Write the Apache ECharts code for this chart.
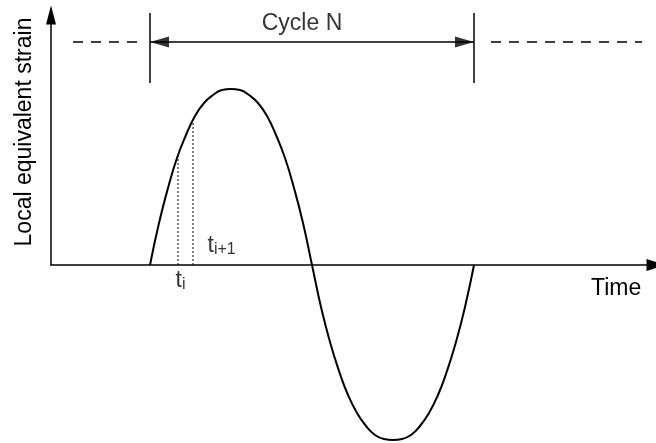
<!DOCTYPE html>
<html>
<head>
<meta charset="utf-8">
<script src="https://cdn.jsdelivr.net/npm/echarts@6/dist/echarts.min.js"></script>
<style>html,body{margin:0;padding:0;background:#fff;}#c{width:656px;height:443px;}</style>
</head>
<body>
<div id="c"></div>
<script>
// ---- data (time and strain in chart units) ----
const curveTime = [99,108,117,126,135,144,153,162,171,180,189,198,207,216,225,234,243,252,261,270,279,288,297,306,315,324,333,342,351,360,369,378,387,396,405,414,423];
const curveStrain = [0,42,77,107,130,149,162,170,175,176,175,170,162,149,130,107,77,42,0,-42,-77,-106,-130,-148,-161,-170,-174,-175,-174,-170,-161,-148,-130,-106,-77,-42,0];
const cycleBounds = [99, 423];          // start / end of cycle N
const cycleTickSpan = [182, 252];       // vertical extent of the cycle markers
const cycleArrowLevel = 223;
const dashLeft = [22, 87];
const dashRight = [440, 591];
const stepTimes = [127, 142];           // t_i, t_i+1
const stepStrains = [109, 144];
const stepLabels = ['i', 'i+1'];
const cycleLabel = 'Cycle N';
const xName = 'Time';
const yName = 'Local equivalent strain';

const FONT = '"Liberation Sans", Arial, Helvetica, sans-serif';
const BLACK = '#000';

function seg(points, style) {
  return Object.assign({
    type: 'line', data: points, symbol: 'none', silent: true, clip: false,
    animation: false, z: 3,
    lineStyle: { color: BLACK, width: 1.5 }
  }, style || {});
}

const series = [];
// main curve
series.push({
  type: 'line', data: curveTime.map((t, i) => [t, curveStrain[i]]),
  smooth: 0.5, symbol: 'none', clip: false, silent: true, animation: false, z: 5,
  lineStyle: { color: BLACK, width: 2 }
});
// dotted step lines
stepTimes.forEach((t, i) => {
  series.push(seg([[t, 0], [t, stepStrains[i]]], { lineStyle: { color: BLACK, width: 1, type: [2, 2] } }));
});
// cycle vertical markers
cycleBounds.forEach(t => {
  series.push(seg([[t, cycleTickSpan[0]], [t, cycleTickSpan[1]]]));
});
// arrow shaft
series.push(seg([[cycleBounds[0], cycleArrowLevel], [cycleBounds[1], cycleArrowLevel]]));
// arrow heads
series.push({
  type: 'scatter', silent: true, animation: false, z: 6,
  symbol: 'triangle', symbolSize: [11, 19],
  itemStyle: { color: BLACK },
  data: [
    { value: [cycleBounds[0], cycleArrowLevel], symbolRotate: 90, symbolOffset: [9.5, 0] },
    { value: [cycleBounds[1], cycleArrowLevel], symbolRotate: -90, symbolOffset: [-9.5, 0] }
  ]
});
// dashed continuation lines
[dashLeft, dashRight].forEach(d => {
  series.push(seg([[d[0], cycleArrowLevel], [d[1], cycleArrowLevel]], { lineStyle: { color: BLACK, width: 1.5, type: [10, 8] } }));
});
// labels
const richStyle = {
  t: { fontSize: 23, fontFamily: FONT, color: BLACK, lineHeight: 24 },
  s: { fontSize: 16, fontFamily: FONT, color: BLACK, lineHeight: 8, verticalAlign: 'bottom' }
};
series.push({
  type: 'scatter', silent: true, animation: false, z: 7,
  symbolSize: 1, itemStyle: { color: 'rgba(0,0,0,0)' },
  data: [
    { value: [stepTimes[0], 0], label: { show: true, formatter: '{t|t}{s|' + stepLabels[0] + '}', position: [-2, 4], align: 'left', verticalAlign: 'top', rich: richStyle } },
    { value: [stepTimes[1], 0], label: { show: true, formatter: '{t|t}{s|' + stepLabels[1] + '}', position: [15, -31], align: 'left', verticalAlign: 'top', rich: richStyle } },
    { value: [(cycleBounds[0] + cycleBounds[1]) / 2, cycleArrowLevel], label: { show: true, formatter: cycleLabel, position: [-9.5, -18], align: 'center', verticalAlign: 'middle', fontSize: 23, fontFamily: FONT, color: BLACK } }
  ]
});

const chart = echarts.init(document.getElementById('c'), null, { renderer: 'canvas' });
chart.setOption({
  animation: false,
  backgroundColor: '#fff',
  textStyle: { fontFamily: FONT },
  grid: { left: 51, right: 0, top: 15, bottom: 178, containLabel: false },
  xAxis: {
    type: 'value', min: 0, max: 605,
    axisLine: { show: true, onZero: false, symbol: ['none', 'triangle'], symbolSize: [12, 19], lineStyle: { color: BLACK, width: 1.5 } },
    axisTick: { show: false }, axisLabel: { show: false }, splitLine: { show: false }
  },
  yAxis: {
    type: 'value', min: 0, max: 250,
    axisLine: { show: true, symbol: ['none', 'triangle'], symbolSize: [10, 19], lineStyle: { color: BLACK, width: 1.5 } },
    axisTick: { show: false }, axisLabel: { show: false }, splitLine: { show: false }
  },
  graphic: [
    { type: 'text', x: 591, y: 288.5, silent: true, style: { text: xName, font: '23px ' + FONT, fill: BLACK, align: 'left', verticalAlign: 'middle' } },
    { type: 'text', x: 25, y: 132, rotation: Math.PI / 2, silent: true, style: { text: yName, font: '23px ' + FONT, fill: BLACK, align: 'center', verticalAlign: 'middle' } }
  ],
  series: series
});
</script>
</body>
</html>
